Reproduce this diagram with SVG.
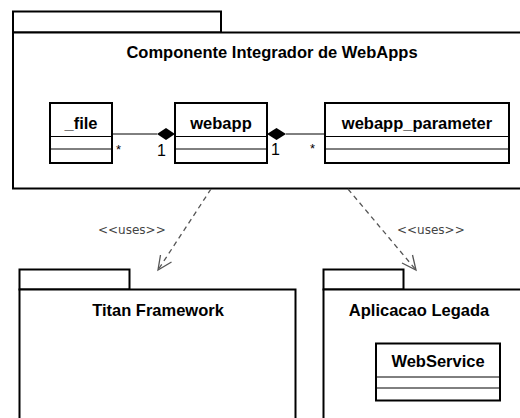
<svg xmlns="http://www.w3.org/2000/svg" width="520" height="418" viewBox="0 0 520 418">
<style>
.pk{fill:#fff;stroke:#000;stroke-width:2}
.cl{fill:#fff;stroke:#000;stroke-width:2}
.ln{stroke:#000;stroke-width:1;fill:none}
.t{font-family:"Liberation Sans",Arial,sans-serif;font-weight:bold;font-size:16.5px;fill:#000;text-anchor:middle}
.m{font-family:"Liberation Sans",Arial,sans-serif;font-size:16px;fill:#000}
.s{font-family:"Liberation Sans",Arial,sans-serif;font-size:13px;fill:#000}
.u{font-family:"DejaVu Sans",sans-serif;font-size:12px;fill:#444}
.dep{stroke:#555;stroke-width:1.3;stroke-dasharray:5,4;fill:none}
.ah{stroke:#555;stroke-width:1.3;fill:none}
</style>
<rect width="520" height="418" fill="#fff"/>
<g id="pkg-componente">
<rect class="pk" x="13" y="11.5" width="208" height="21"/>
<rect class="pk" x="13" y="32.5" width="520" height="156"/>
<text class="t" x="272" y="58">Componente Integrador de WebApps</text>
</g>
<g id="cls-file">
<rect class="cl" x="50" y="103" width="62" height="60"/>
<line class="ln" x1="50" y1="136.5" x2="112" y2="136.5"/>
<line class="ln" x1="50" y1="149" x2="112" y2="149"/>
<text class="t" x="81" y="129">_file</text>
</g>
<g id="cls-webapp">
<rect class="cl" x="175" y="103" width="92" height="60"/>
<line class="ln" x1="175" y1="136.5" x2="267" y2="136.5"/>
<line class="ln" x1="175" y1="149" x2="267" y2="149"/>
<text class="t" x="221" y="129">webapp</text>
</g>
<g id="cls-webapp_parameter">
<rect class="cl" x="325" y="103" width="184" height="60"/>
<line class="ln" x1="325" y1="136.5" x2="509" y2="136.5"/>
<line class="ln" x1="325" y1="149" x2="509" y2="149"/>
<text class="t" x="417" y="129">webapp_parameter</text>
</g>
<g id="pkg-titan">
<rect class="pk" x="19.5" y="269.5" width="110" height="20"/>
<rect class="pk" x="19.5" y="289.5" width="276" height="140"/>
<text class="t" x="158" y="316">Titan Framework</text>
</g>
<g id="pkg-legada">
<rect class="pk" x="323.5" y="269.5" width="80" height="20"/>
<rect class="pk" x="323.5" y="289.5" width="220" height="140"/>
<text class="t" x="419" y="316">Aplicacao Legada</text>
<g id="cls-webservice">
<rect class="cl" x="376" y="343.5" width="124" height="57"/>
<line class="ln" x1="376" y1="377" x2="500" y2="377"/>
<line class="ln" x1="376" y1="388" x2="500" y2="388"/>
<text class="t" x="438" y="367">WebService</text>
</g>
</g>
<g id="connectors">
<line class="ln" x1="112" y1="134" x2="157" y2="134"/>
<polygon points="157,134 166,128 175,134 166,140" fill="#000"/>
<line class="ln" x1="286" y1="134" x2="325" y2="134"/>
<polygon points="267,134 276.5,128 286,134 276.5,140" fill="#000"/>
<text class="s" x="116" y="154">*</text>
<text class="m" x="157" y="156">1</text>
<text class="m" x="271" y="155">1</text>
<text class="s" x="310" y="153">*</text>
<line class="dep" x1="211" y1="189" x2="158" y2="270"/>
<polyline class="ah" points="160.5,255 158,270 171.5,262"/>
<text class="u" x="98" y="234">&lt;&lt;uses&gt;&gt;</text>
<line class="dep" x1="348" y1="189" x2="416" y2="270"/>
<polyline class="ah" points="402,263 416,270 412.5,255"/>
<text class="u" x="397" y="234">&lt;&lt;uses&gt;&gt;</text>
</g>
</svg>
